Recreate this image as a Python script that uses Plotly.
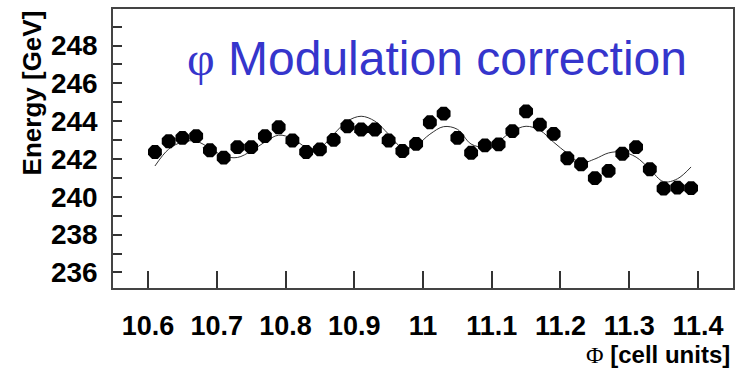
import plotly.graph_objects as go

phi = [10.61, 10.63, 10.65, 10.67, 10.69, 10.71, 10.73, 10.75, 10.77, 10.79,
       10.81, 10.83, 10.85, 10.87, 10.89, 10.91, 10.93, 10.95, 10.97, 10.99,
       11.01, 11.03, 11.05, 11.07, 11.09, 11.11, 11.13, 11.15, 11.17, 11.19,
       11.21, 11.23, 11.25, 11.27, 11.29, 11.31, 11.33, 11.35, 11.37, 11.39]

energy = [242.37, 242.94, 243.12, 243.21, 242.46, 242.07, 242.63, 242.63, 243.21, 243.68,
          242.98, 242.37, 242.51, 243.01, 243.73, 243.56, 243.56, 242.98, 242.42, 242.80,
          243.94, 244.40, 243.12, 242.33, 242.72, 242.77, 243.47, 244.52, 243.82, 243.33,
          242.04, 241.72, 240.99, 241.37, 242.28, 242.63, 241.46, 240.44, 240.49, 240.46]

fit = [241.63, 242.52, 242.90, 242.94, 242.57, 242.16, 242.08, 242.42, 242.90, 243.26,
       243.08, 242.63, 242.60, 243.31, 244.00, 244.26, 244.00, 243.31, 242.60, 242.73,
       243.31, 243.71, 243.57, 242.79, 242.63, 242.94, 243.47, 243.73, 243.52, 242.89,
       242.30, 241.80, 242.00, 242.32, 242.37, 242.10, 241.46, 240.80, 240.95, 241.58]

x_ticks = [10.6, 10.7, 10.8, 10.9, 11.0, 11.1, 11.2, 11.3, 11.4]
x_tick_text = ["10.6", "10.7", "10.8", "10.9", "11", "11.1", "11.2", "11.3", "11.4"]
y_ticks = [236, 238, 240, 242, 244, 246, 248]

FONT = "Liberation Sans, Arial, sans-serif"

fig = go.Figure()
fig.add_trace(go.Scatter(x=phi, y=fit, mode="lines", line=dict(color="#333333", width=1, shape="spline"),
                         hoverinfo="skip", showlegend=False))
fig.add_trace(go.Scatter(x=phi, y=energy, mode="markers",
                         marker=dict(symbol="octagon", size=15, color="black", line=dict(width=0)),
                         showlegend=False))

fig.update_layout(
    width=748, height=370,
    margin=dict(l=113, r=15, t=7, b=82),
    paper_bgcolor="white", plot_bgcolor="white",
    font=dict(family=FONT, color="black"),
)
fig.update_xaxes(
    range=[10.549, 11.451], tickvals=x_ticks, ticktext=x_tick_text,
    ticks="inside", ticklen=17, tickwidth=1.5, tickcolor="#333333",
    showline=True, linecolor="#444444", linewidth=1.5, mirror=True,
    showgrid=False, zeroline=False, ticklabelstandoff=13,
    tickfont=dict(size=27, weight="bold", family=FONT, color="black"),
)
fig.update_yaxes(
    range=[235.18, 249.93], tickvals=y_ticks,
    ticks="inside", ticklen=9, tickwidth=1.5, tickcolor="#333333",
    minor=dict(dtick=1, ticks="inside", ticklen=9, tickwidth=1.5, tickcolor="#333333", showgrid=False),
    showline=True, linecolor="#444444", linewidth=1.5, mirror=True,
    showgrid=False, zeroline=False, ticklabelstandoff=8,
    tickfont=dict(size=28, weight="bold", family=FONT, color="black"),
)

fig.add_annotation(
    text="<span style=\"font-family:'Liberation Serif'\">φ</span> Modulation correction",
    xref="paper", yref="paper", x=(437 - 113) / 620, y=(288 - 57) / 281,
    xanchor="center", yanchor="middle", showarrow=False,
    font=dict(size=48, color="#3535cc", family=FONT),
)
fig.add_annotation(
    text="Energy [GeV]", textangle=-90,
    xref="paper", yref="paper", x=(32 - 113) / 620, y=(288 - 92) / 281,
    xanchor="center", yanchor="middle", showarrow=False,
    font=dict(size=26, weight="bold", family=FONT, color="black"),
)
fig.add_annotation(
    text="<span style=\"font-family:'Liberation Serif'; font-weight:normal\">Φ</span> [cell units]",
    xref="paper", yref="paper", x=(732 - 113) / 620, y=(288 - 355) / 281,
    xanchor="right", yanchor="middle", showarrow=False,
    font=dict(size=24, weight="bold", family=FONT, color="black"),
)

fig.write_html("out.html")
